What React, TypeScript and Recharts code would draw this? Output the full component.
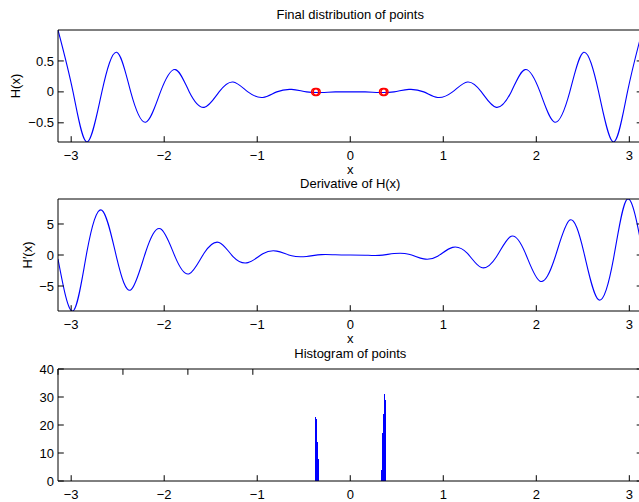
import React from 'react';
import { ComposedChart, Line, Scatter, Bar, XAxis, YAxis, Label } from 'recharts';

const PI = 3.1416;

// x positions where the curves were read (peaks, troughs and zero crossings)
const sampleX = [
  -3.1416, -2.98, -2.83, -2.67, -2.51, -2.36, -2.2, -2.04, -1.88, -1.73, -1.57,
  -1.41, -1.26, -1.1, -0.94, -0.79, -0.63, -0.47, -0.31, -0.16, 0,
  0.16, 0.31, 0.47, 0.63, 0.79, 0.94, 1.1, 1.26, 1.41, 1.57,
  1.73, 1.88, 2.04, 2.2, 2.36, 2.51, 2.67, 2.83, 2.98, 3.1416,
];

// H(x), top panel
const hValues = [
  1.0, 0, -0.81, 0, 0.64, 0, -0.49, 0, 0.36, 0, -0.25,
  0, 0.16, 0, -0.09, 0, 0.04, 0, -0.01, 0, 0,
  0, -0.01, 0, 0.04, 0, -0.09, 0, 0.16, 0, -0.25,
  0, 0.36, 0, -0.49, 0, 0.64, 0, -0.81, 0, 1.0,
];

// H'(x), middle panel
const dhValues = [
  -0.64, -9.03, 0.57, 7.23, -0.51, -5.63, 0.45, 4.23, -0.38, -3.03, 0.32,
  2.03, -0.25, -1.23, 0.19, 0.63, -0.13, -0.23, 0.06, 0.03, 0,
  -0.03, -0.06, 0.23, 0.13, -0.63, -0.19, 1.23, 0.25, -2.03, -0.32,
  3.03, 0.38, -4.23, -0.45, 5.63, 0.51, -7.23, -0.57, 9.03, 0.64,
];

// final point positions (red circles)
const pointX = [-0.377, -0.361, 0.352, 0.368];
const pointY = [0, 0, 0, 0];

// histogram bins
const binX = [-0.375, -0.365, -0.355, -0.345, -0.335, 0.335, 0.345, 0.355, 0.365, 0.375];
const binCount = [23, 22, 14, 8, 2, 4, 17, 24, 31, 29];

const xTicks = [-3, -2, -1, 0, 1, 2, 3];
const hTicks = [-0.5, 0, 0.5];
const dhTicks = [-5, 0, 5];
const countTicks = [0, 10, 20, 30, 40];

const hData = sampleX.map((x, i) => ({ x, y: hValues[i] }));
const dhData = sampleX.map((x, i) => ({ x, y: dhValues[i] }));
const pointData = pointX.map((x, i) => ({ x, y: pointY[i] }));
const histData = binX.map((x, i) => ({ x, count: binCount[i] }));

const FONT = '"Liberation Sans", Arial, Helvetica, sans-serif';
const FS = 13;
const TICK = 5.8;
const CHART_W = 680;
const CHART_H = 185;
const PLOT_TOP = 30;
const PLOT_H = 112;
// axes get 1px of room each (recharts skips drawing an axis of size 0)
const margin = { top: PLOT_TOP - 1, left: 57, right: CHART_W - 642.5 - 1, bottom: CHART_H - PLOT_TOP - PLOT_H - 1 };
const axisLine = { stroke: '#000', strokeWidth: 1 };

const fmt = (v: number) => (v < 0 ? '\u2212' : '') + String(Math.abs(v));

const bottomTick = (p: any) => (
  <g>
    <line x1={p.x} x2={p.x} y1={p.y} y2={p.y - TICK} stroke="#000" />
    <text x={p.x} y={p.y + 17.5} textAnchor="middle" fontSize={FS} fontFamily={FONT} fill="#000">
      {fmt(p.payload.value)}
    </text>
  </g>
);
const topTick = (p: any) => <line x1={p.x} x2={p.x} y1={p.y} y2={p.y + TICK} stroke="#000" />;
const leftTick = (p: any) => (
  <g>
    <line x1={p.x} x2={p.x + TICK} y1={p.y} y2={p.y} stroke="#000" />
    <text x={p.x - 4} y={p.y} dy="0.355em" textAnchor="end" fontSize={FS} fontFamily={FONT} fill="#000">
      {fmt(p.payload.value)}
    </text>
  </g>
);
const rightTick = (p: any) => <line x1={p.x} x2={p.x - TICK} y1={p.y} y2={p.y} stroke="#000" />;

const labelStyle = { fontSize: FS, fontFamily: FONT, fill: '#000' };

function frame(yDomain: number[], yTicks: number[], title: string, xLabel?: string, yLabel?: string, yLabelOffset = 41) {
  return [
    <XAxis key="xb" xAxisId="b" type="number" dataKey="x" domain={[-PI, PI]} allowDataOverflow ticks={xTicks}
      interval={0} height={1} tickSize={0} tickMargin={0} axisLine={axisLine} tickLine={false} tick={bottomTick}>
      {xLabel ? <Label value={xLabel} position="bottom" offset={22} style={labelStyle} /> : null}
    </XAxis>,
    <XAxis key="xt" xAxisId="t" orientation="top" type="number" domain={[-PI, PI]} allowDataOverflow ticks={xTicks}
      interval={0} height={1} tickSize={0} tickMargin={0} axisLine={axisLine} tickLine={false} tick={topTick}>
      <Label value={title} position="top" offset={10} style={labelStyle} />
    </XAxis>,
    <YAxis key="yl" yAxisId="l" type="number" domain={yDomain} allowDataOverflow ticks={yTicks}
      interval={0} width={1} tickSize={0} tickMargin={0} axisLine={axisLine} tickLine={false} tick={leftTick}>
      {yLabel ? (
        <Label value={yLabel} angle={-90} position="left" offset={yLabelOffset}
          style={{ ...labelStyle, textAnchor: 'middle' }} />
      ) : null}
    </YAxis>,
    <YAxis key="yr" yAxisId="r" orientation="right" type="number" domain={yDomain} allowDataOverflow ticks={yTicks}
      interval={0} width={1} tickSize={0} tickMargin={0} axisLine={axisLine} tickLine={false} tick={rightTick} />,
  ];
}

const circle = (p: any) => <circle cx={p.cx} cy={p.cy} r={3.5} fill="none" stroke="#ff0000" strokeWidth={1.5} />;

export default function App() {
  return (
    <div style={{ position: 'absolute', left: 0, top: 0, width: 639, height: 502, overflow: 'hidden', background: '#fff' }}>
      <div style={{ position: 'absolute', left: 0, top: 0 }}>
        <ComposedChart width={CHART_W} height={CHART_H} margin={margin}>
          {frame([-0.81, 1.0], hTicks, 'Final distribution of points', 'x', 'H(x)', 41.6)}
          <Line data={hData} xAxisId="b" yAxisId="l" dataKey="y" type="natural" stroke="#0000ff" strokeWidth={1.1}
            dot={false} isAnimationActive={false} />
          <Scatter data={pointData} xAxisId="b" yAxisId="l" dataKey="y" shape={circle} isAnimationActive={false} />
        </ComposedChart>
      </div>
      <div style={{ position: 'absolute', left: 0, top: 169 }}>
        <ComposedChart width={CHART_W} height={CHART_H} margin={margin}>
          {frame([-9.03, 9.03], dhTicks, 'Derivative of H(x)', 'x', 'H\u2032(x)', 30.1)}
          <Line data={dhData} xAxisId="b" yAxisId="l" dataKey="y" type="natural" stroke="#0000ff" strokeWidth={1.1}
            dot={false} isAnimationActive={false} />
        </ComposedChart>
      </div>
      <div style={{ position: 'absolute', left: 0, top: 339 }}>
        <ComposedChart width={CHART_W} height={CHART_H} margin={margin} data={histData}>
          {frame([0, 40], countTicks, 'Histogram of points')}
          <Bar xAxisId="b" yAxisId="l" dataKey="count" fill="#0000ff" barSize={1.2} shapeRendering="crispEdges"
            isAnimationActive={false} />
        </ComposedChart>
      </div>
    </div>
  );
}
